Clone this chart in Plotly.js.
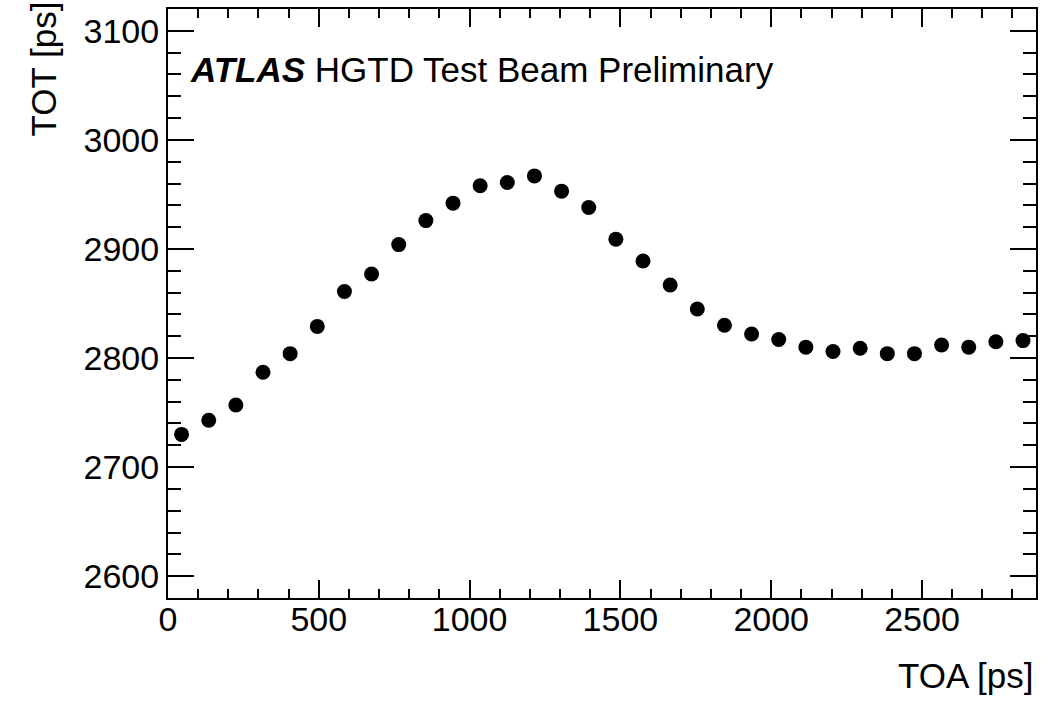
<!DOCTYPE html>
<html>
<head>
<meta charset="utf-8">
<script src="https://cdn.plot.ly/plotly-3.0.1.min.js"></script>
<style>html,body{margin:0;padding:0;background:#fff;}#chart{width:1058px;height:701px;}</style>
</head>
<body>
<div id="chart"></div>
<script>
const toa = [45, 135, 225, 315, 405, 495, 585, 675, 765, 855, 945, 1035, 1125, 1215, 1305, 1395,
             1485, 1575, 1665, 1755, 1845, 1935, 2025, 2115, 2205, 2295, 2385, 2475, 2565, 2655, 2745, 2835];
const tot = [2730, 2743, 2757, 2787, 2804, 2829, 2861, 2877, 2904, 2926, 2942, 2958, 2961, 2967, 2953, 2938,
             2909, 2889, 2867, 2845, 2830, 2822, 2817, 2810, 2806, 2809, 2804, 2804, 2812, 2810, 2815, 2816];
const xTitle = "TOA [ps]";
const yTitle = "TOT [ps]";
const labelBold = "ATLAS";
const labelRest = "HGTD Test Beam Preliminary";

const FONT = "Liberation Sans, Arial, sans-serif";
const axisCommon = {
  showline: true, linecolor: "#000", linewidth: 2, mirror: "allticks",
  ticks: "inside", tickcolor: "#000", tickwidth: 2,
  showgrid: false, zeroline: false,
  tickfont: {family: FONT, size: 34, color: "#000"}
};
const layout = {
  width: 1058, height: 701,
  margin: {l: 168, r: 22, t: 9, b: 103},
  paper_bgcolor: "#fff", plot_bgcolor: "#fff",
  showlegend: false,
  xaxis: Object.assign({}, axisCommon, {
    range: [0, 2878], tick0: 0, dtick: 500, ticklen: 18, ticklabelstandoff: -10,
    minor: {dtick: 100, ticks: "inside", ticklen: 9, tickwidth: 2, tickcolor: "#000", showgrid: false}
  }),
  yaxis: Object.assign({}, axisCommon, {
    range: [2580, 3120], tick0: 2600, dtick: 100, ticklen: 26,
    minor: {dtick: 20, ticks: "inside", ticklen: 13, tickwidth: 2, tickcolor: "#000", showgrid: false}
  }),
  annotations: [
    {text: xTitle, xref: "paper", yref: "paper", x: 1.0, xanchor: "right", y: -0.131, yanchor: "middle",
     showarrow: false, font: {family: FONT, size: 35, color: "#000"}},
    {text: yTitle, xref: "paper", yref: "paper", x: -0.144, xanchor: "center", y: 1.0153, yanchor: "top",
     textangle: -90, showarrow: false, font: {family: FONT, size: 35, color: "#000"}},
    {text: "<b><i>" + labelBold + "</i></b> " + labelRest, xref: "paper", yref: "paper",
     x: 0.023, xanchor: "left", y: 0.897, yanchor: "middle",
     showarrow: false, font: {family: FONT, size: 35, color: "#000"}}
  ]
};
const trace = {
  x: toa, y: tot, type: "scatter", mode: "markers",
  marker: {symbol: "circle", size: 15, color: "#000"},
  cliponaxis: false, hoverinfo: "skip"
};
Plotly.newPlot("chart", [trace], layout, {staticPlot: true});
</script>
</body>
</html>
